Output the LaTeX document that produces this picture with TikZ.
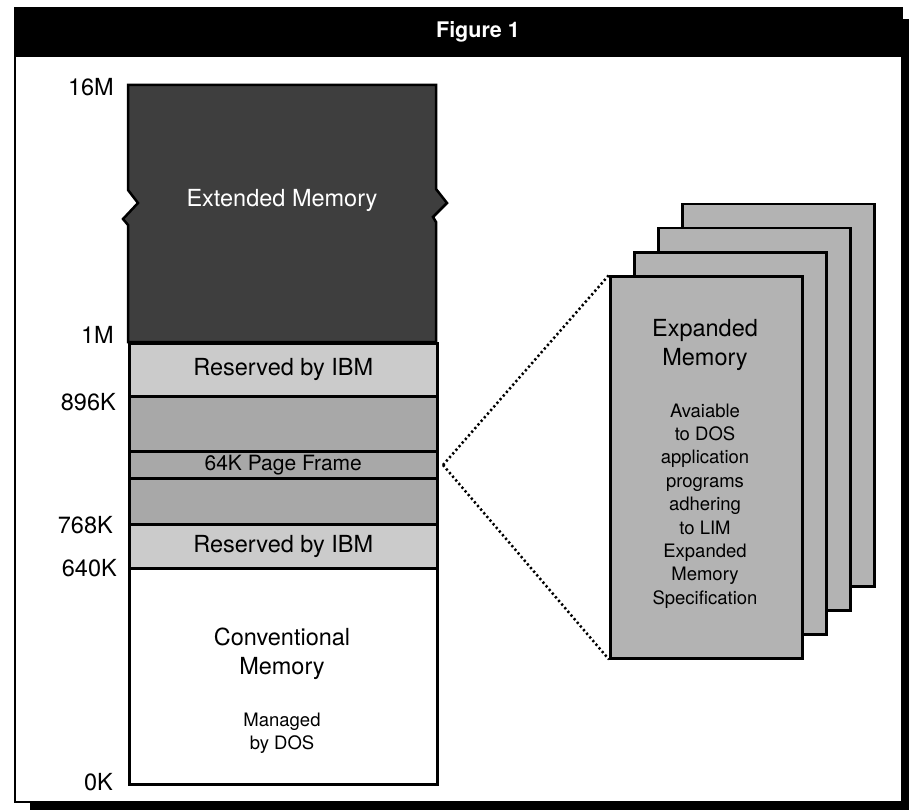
\documentclass[tikz,border=0pt]{standalone}
\usepackage{fontspec}
\setmainfont{TeX Gyre Heros}
\definecolor{extdark}{HTML}{3E3E3E}
\definecolor{reslight}{HTML}{CBCBCB}
\definecolor{midgray}{HTML}{A8A8A8}
\definecolor{pagegray}{HTML}{B3B3B3}
\newcommand\bigfnt{\fontsize{23.5}{28.5}\selectfont}
\newcommand\smfnt{\fontsize{18.5}{23.4}\selectfont}
\begin{document}
\begin{tikzpicture}[x=1pt,y=-1pt,
  seg/.style={draw=black, line width=2.5pt, minimum width=308pt, inner sep=0pt, anchor=north west, font=\bigfnt},
  lab/.style={anchor=east, inner sep=0pt, font=\bigfnt},
  page/.style={draw=black, line width=2.5pt, fill=pagegray, minimum width=192pt, minimum height=382pt, inner sep=0pt, anchor=north west},
  txt/.style={inner sep=0pt, align=center},
  link/.style={line width=2.5pt, dash pattern=on 2.2pt off 2.6pt}]
\useasboundingbox (0,0) rectangle (909,810);
% frame with shadow
\fill[black] (30,19) rectangle (909,810);
\draw[line width=2pt, fill=white] (15,8) rectangle (902,802);
\node[fill=black, minimum width=887pt, minimum height=49pt, inner sep=0pt, anchor=north west] (bar) at (15,8) {};
\node[txt, text=white, font=\fontsize{21.5}{25}\selectfont\bfseries] (title) at (478,32) {Figure 1};
% extended memory (with break marks)
\draw[line width=2.5pt, fill=extdark, line join=miter]
  (128,85) -- (436,85) -- (436,189) -- (447,203) -- (433,217) -- (436,222) -- (436,342)
  -- (128,342) -- (128,225) -- (123,219) -- (138,203) -- (128,190) -- cycle;
\node[txt, text=white, font=\bigfnt] (ext) at (282,200) {Extended Memory};
% segments
\node[seg, fill=reslight, minimum height=53pt] (res1) at (128,342) {Reserved by IBM};
\node[seg, fill=midgray, minimum height=55pt] (upa) at (128,395) {};
\node[seg, fill=midgray, minimum height=27pt, font=\fontsize{21}{25}\selectfont] (frame) at (128,450) {64K Page Frame};
\node[seg, fill=midgray, minimum height=46pt] (upb) at (128,477) {};
\node[seg, fill=reslight, minimum height=44pt] (res2) at (128,523) {Reserved by IBM};
\node[seg, fill=white, minimum height=216pt] (conv) at (128,567) {};
\node[txt, font=\bigfnt] (convt) at (282,654) {Conventional\\Memory};
\node[txt, font=\smfnt] (convs) at (282,733) {Managed\\by DOS};
% address labels
\node[lab] (a16m) at (114,87) {16M};
\node[lab] (a1m) at (114,335) {1M};
\node[lab] (a896) at (116,402) {896K};
\node[lab] (a768) at (113,525) {768K};
\node[lab] (a640) at (117,568) {640K};
\node[lab] (a0) at (113,782) {0K};
% expanded memory pages
\node[page] (p4) at (681,203) {};
\node[page] (p3) at (657,227) {};
\node[page] (p2) at (633,251) {};
\node[page] (p1) at (609,275) {};
\node[txt, font=\bigfnt] (expt) at (705,345) {Expanded\\Memory};
\node[txt, font=\smfnt] (exps) at (705,506) {Avaiable\\to DOS\\application\\programs\\adhering\\to LIM\\Expanded\\Memory\\Specification};
% dotted connectors
\coordinate (apex) at (443,465);
\draw[link] (apex) -- (p1.north west);
\draw[link] (apex) -- (p1.south west);
\end{tikzpicture}
\end{document}
